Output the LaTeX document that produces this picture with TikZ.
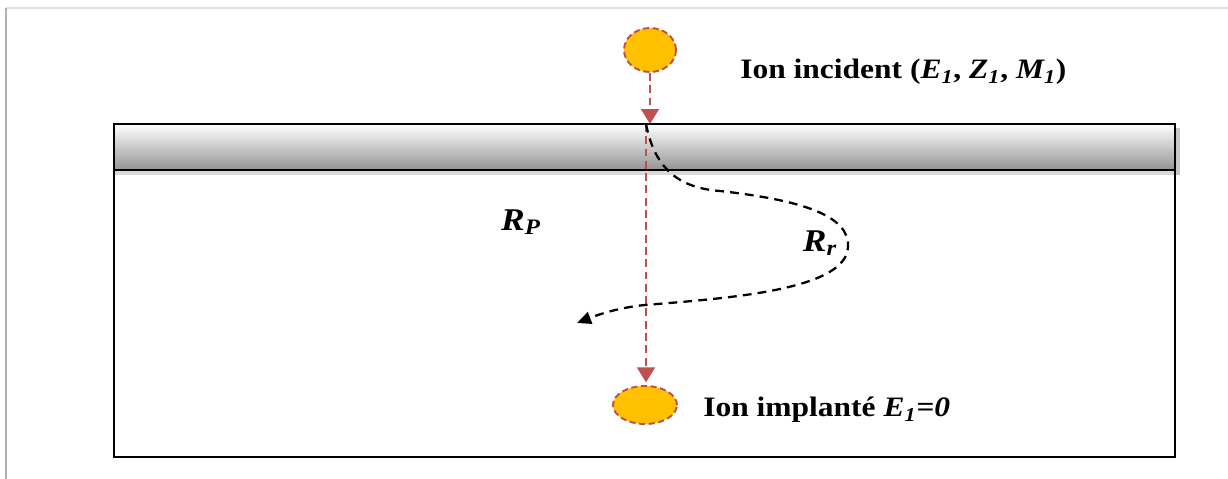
\documentclass[tikz,border=0pt]{standalone}
\usepackage{fontspec}
\setmainfont{Liberation Serif}
\newfontfamily\widefont[FakeStretch=1.12]{Liberation Serif}
\usetikzlibrary{arrows.meta,shapes.geometric}
\definecolor{ionfill}{HTML}{FFC000}
\definecolor{ionedge}{HTML}{C0504D}

\begin{document}
\begin{tikzpicture}[x=0.02cm,y=-0.02cm,
  ion/.style={ellipse,fill=ionfill,draw=ionedge,dash pattern=on 3.5pt off 2pt,line width=1.1pt,inner sep=0pt},
  redpath/.style={draw=ionedge,line width=1.5pt,dash pattern=on 4.5pt off 2.5pt,-{Triangle[length=8.5pt,width=10pt]}},
  blackpath/.style={line width=1.3pt,dash pattern=on 5pt off 3.5pt,-{Triangle[length=8pt,width=7pt]}},
  lbl/.style={font=\widefont\fontsize{16}{19}\selectfont\bfseries,inner sep=0pt},
  rlbl/.style={font=\widefont\fontsize{18}{21}\selectfont\bfseries\itshape,inner sep=0pt}]
  \useasboundingbox[fill=white] (0,0) rectangle (1228,479);
  % frame of the page
  \draw[gray!25,line width=1.2pt] (6,8) -- (1228,8);
  \draw[gray!60,line width=0.9pt] (6,8) -- (6,479);
  % target with its surface layer
  \fill[gray!45] (118,128) rectangle (1180,175);
  \draw[line width=1.1pt,fill=white] (114,170) rectangle (1175,457);
  \fill[gray!30] (115,171) rectangle (1174,175);
  \shade[top color=white,bottom color=black!42] (114,124) rectangle (1175,170);
  \draw[line width=1.1pt] (114,124) rectangle (1175,170);
  % ions
  \node[ion,minimum width=1.04cm,minimum height=0.88cm] (inc) at (650,50) {};
  \node[ion,minimum width=1.28cm,minimum height=0.76cm] (imp) at (645,405) {};
  \coordinate (surf) at (646,124);
  \coordinate (stop) at (577,323);
  % trajectories
  \draw[redpath] (inc.south) -- (inc.south |- surf);
  \draw[redpath,shorten >=1.5pt] (surf) -- (surf |- imp.north);
  \draw[blackpath] (surf) .. controls (655,170) and (680,188) .. (720,191)
    .. controls (800,200) and (850,215) .. (848,247)
    .. controls (846,290) and (730,298) .. (645,305)
    .. controls (615,308) and (595,316) .. (stop);
  % labels
  \node[lbl,anchor=west] (tinc) at (740,72) {Ion incident (\textit{E\textsubscript{1}}, \textit{Z\textsubscript{1}}, \textit{M\textsubscript{1}})};
  \node[lbl,anchor=west] (timp) at (703,410) {Ion implanté \textit{E\textsubscript{1}=0}};
  \node[rlbl] (rp) at (521,222) {R\textsubscript{P}};
  \node[rlbl] (rr) at (820,243) {R\textsubscript{r}};
\end{tikzpicture}
\end{document}
